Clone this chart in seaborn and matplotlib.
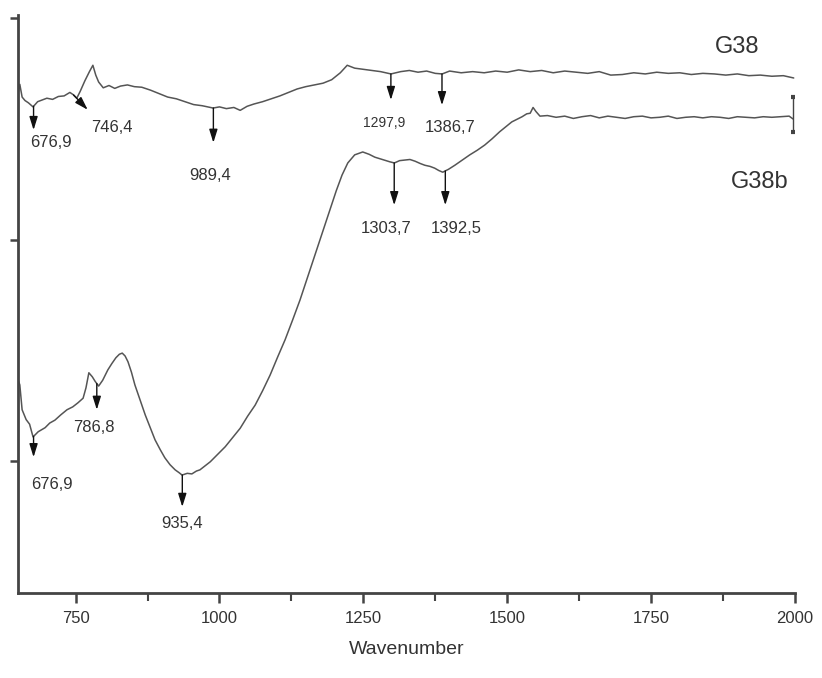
import numpy as np
import pandas as pd
import matplotlib
matplotlib.use("Agg")
import matplotlib.pyplot as plt
import seaborn as sns

# --- spectra (wavenumber, arbitrary transmittance units) ---
g38_wn = [650, 653, 657, 662, 668, 676, 684, 692, 700, 710, 720, 730, 740, 746, 752,
          758, 766, 774, 780, 785, 790, 798, 808, 818, 828, 840, 852, 865, 880, 895,
          910, 925, 940, 955, 970, 989, 1000, 1012, 1025, 1036, 1048, 1060, 1075, 1090,
          1105, 1120, 1135, 1150, 1165, 1180, 1195, 1210, 1222, 1235, 1250, 1265, 1280,
          1298, 1315, 1330, 1345, 1360, 1375, 1387, 1400, 1420, 1440, 1460, 1480, 1500,
          1520, 1540, 1560, 1580, 1600, 1620, 1640, 1660, 1680, 1700, 1720, 1740, 1760,
          1780, 1800, 1820, 1840, 1860, 1880, 1900, 1920, 1940, 1960, 1980, 1998]
g38_t = [86.5, 88.0, 85.8, 85.2, 84.8, 84.1, 85.0, 85.3, 85.6, 85.4, 85.9, 86.0, 86.6, 86.2, 85.6,
         86.8, 88.6, 90.2, 91.3, 89.6, 88.4, 87.4, 87.8, 87.3, 87.7, 87.9, 87.6, 87.5, 87.0, 86.4,
         85.8, 85.5, 85.0, 84.5, 84.3, 83.9, 84.1, 83.8, 84.0, 83.5, 84.2, 84.6, 85.0, 85.5,
         86.0, 86.6, 87.2, 87.6, 87.9, 88.2, 88.8, 90.0, 91.3, 90.8, 90.6, 90.4, 90.2,
         89.8, 90.2, 90.4, 90.1, 90.3, 89.9, 89.8, 90.3, 90.0, 90.2, 90.0, 90.3, 90.1,
         90.5, 90.2, 90.4, 90.0, 90.3, 90.1, 89.9, 90.2, 89.6, 89.7, 90.0, 89.8, 90.1,
         89.9, 90.0, 89.7, 89.9, 89.8, 89.6, 89.8, 89.5, 89.6, 89.4, 89.5, 89.1]

g38b_wn = [650, 653, 657, 664, 670, 676, 685, 697, 705, 714, 724, 735, 745, 754, 763,
           768, 773, 779, 784, 790, 797, 806, 813, 820, 826, 831, 836, 841, 847, 853,
           862, 871, 880, 888, 897, 905, 914, 923, 930, 935, 944, 952, 960, 966, 975,
           984, 997, 1010, 1023, 1036, 1049, 1062, 1075, 1088, 1101, 1114, 1127, 1140,
           1153, 1166, 1179, 1192, 1203, 1213, 1223, 1235, 1249, 1260, 1270, 1283, 1296,
           1304, 1313, 1322, 1331, 1340, 1349, 1357, 1366, 1374, 1381, 1388, 1398, 1409,
           1422, 1435, 1448, 1461, 1474, 1487, 1498, 1508, 1518, 1526, 1534, 1540, 1545,
           1550, 1557, 1570, 1585, 1600, 1615, 1630, 1645, 1660, 1675, 1690, 1705, 1720,
           1735, 1750, 1765, 1780, 1795, 1810, 1825, 1840, 1855, 1870, 1885, 1900, 1915,
           1930, 1945, 1960, 1975, 1990, 1997]
g38b_t = [36.9, 36.0, 31.7, 30.0, 29.2, 27.0, 27.9, 28.6, 29.4, 29.9, 30.8, 31.7, 32.2, 32.9, 33.7,
          35.5, 38.1, 37.4, 36.6, 35.8, 36.8, 38.6, 39.7, 40.7, 41.3, 41.5, 41.0, 40.0, 38.2, 36.0,
          33.4, 30.8, 28.5, 26.5, 24.8, 23.4, 22.2, 21.3, 20.8, 20.4, 20.7, 20.6, 21.1, 21.3, 22.0,
          22.7, 24.0, 25.3, 26.9, 28.5, 30.6, 32.5, 35.0, 37.7, 40.8, 43.8, 47.2, 50.7,
          54.6, 58.5, 62.4, 66.3, 69.6, 72.3, 74.4, 75.8, 76.3, 75.9, 75.4, 75.0, 74.6,
          74.4, 74.8, 74.9, 75.0, 74.7, 74.3, 74.0, 73.8, 73.5, 73.1, 72.8, 73.3, 74.0,
          74.9, 75.8, 76.6, 77.5, 78.6, 79.8, 80.7, 81.5, 82.0, 82.4, 82.9, 83.0, 84.0,
          83.3, 82.5, 82.6, 82.3, 82.5, 82.1, 82.4, 82.6, 82.2, 82.5, 82.3, 82.1, 82.4,
          82.5, 82.2, 82.3, 82.5, 82.1, 82.3, 82.4, 82.2, 82.4, 82.3, 82.1, 82.4, 82.3,
          82.2, 82.4, 82.3, 82.4, 82.5, 82.0]

# peak labels
g38_peaks = [676.9, 746.4, 989.4, 1297.9, 1386.7]
g38b_peaks = [676.9, 786.8, 935.4, 1303.7, 1392.5]
peak_labels_g38 = ["676,9", "746,4", "989,4", "1297,9", "1386,7"]
peak_labels_g38b = ["676,9", "786,8", "935,4", "1303,7", "1392,5"]

# scale bar at the right end
bar_x = 1997
bar_y = 82.8
bar_err = 3.0

# layout of the annotations: (arrow tip x, arrow tip y, label x, label y)
g38_layout = [(676.9, 80.1, 707, 77.9), (771, 83.6, 813, 80.6), (989.4, 77.9, 984, 72.3),
              (1297.9, 85.3, 1286, 81.3), (1386.7, 84.4, 1400, 80.6)]
g38b_layout = [(676.9, 23.5, 709, 18.7), (786.8, 31.7, 782, 28.7), (935.4, 14.9, 935, 12.1),
               (1303.7, 67.1, 1289, 63.1), (1392.5, 67.1, 1411, 63.1)]

df = pd.concat([
    pd.DataFrame({"Wavenumber": g38_wn, "T": g38_t, "sample": "G38"}),
    pd.DataFrame({"Wavenumber": g38b_wn, "T": g38b_t, "sample": "G38b"}),
])

sns.set_style("ticks")
plt.rcParams["font.family"] = ["Liberation Sans", "DejaVu Sans"]

fig = plt.figure(figsize=(8.22, 6.78), dpi=100)
ax = fig.add_axes([0.022, 0.1254, 0.945, 0.8525])

line_col = "#555555"
text_col = "#333333"

sns.lineplot(data=df, x="Wavenumber", y="T", hue="sample", units="sample", estimator=None,
             palette={"G38": line_col, "G38b": line_col}, linewidth=1.1, legend=False,
             sort=False, ax=ax)

# peak arrows + labels
for curve_x, curve_y, peaks, labels, layout in [
        (g38_wn, g38_t, g38_peaks, peak_labels_g38, g38_layout),
        (g38b_wn, g38b_t, g38b_peaks, peak_labels_g38b, g38b_layout)]:
    for p, lab, (tx, ty, lx, ly) in zip(peaks, labels, layout):
        y0 = np.interp(p, curve_x, curve_y)
        ax.annotate("", xy=(tx, ty), xytext=(p, y0),
                    arrowprops=dict(arrowstyle="-|>,head_length=0.8,head_width=0.25",
                                    color="#111111", lw=1.0, shrinkA=0, shrinkB=0))
        fs = 10 if lab == "1297,9" else 12
        ax.text(lx, ly, lab, ha="center", va="center", fontsize=fs, color=text_col)

# scale bar
ax.errorbar([bar_x], [bar_y], yerr=[bar_err], fmt="none", ecolor="#444444",
            elinewidth=1.0, capsize=1.2, capthick=3)

ax.text(1899, 94.4, "G38", fontsize=17, color=text_col, ha="center", va="center")
ax.text(1938, 71.1, "G38b", fontsize=17, color=text_col, ha="center", va="center")

ax.set_xlim(650, 2000)
ax.set_ylim(0, 100)
ax.set_xticks([750, 1000, 1250, 1500, 1750, 2000])
ax.set_xticks([875, 1125, 1375, 1625, 1875], minor=True)
ax.set_yticks([22.8, 61.1, 99.5])
ax.set_yticklabels([])
ax.tick_params(axis="x", which="major", length=7, width=1.8, colors="#444444",
               labelsize=12, labelcolor=text_col, pad=6)
ax.tick_params(axis="x", which="minor", length=6, width=1.5, colors="#444444")
ax.tick_params(axis="y", length=6, width=1.8, colors="#444444")
ax.set_xlabel("Wavenumber", fontsize=14, color=text_col, labelpad=11)
ax.set_ylabel("")
sns.despine(ax=ax)
for s in ["left", "bottom"]:
    ax.spines[s].set_linewidth(2)
    ax.spines[s].set_color("#444444")

fig.savefig("out.png", dpi=100)
